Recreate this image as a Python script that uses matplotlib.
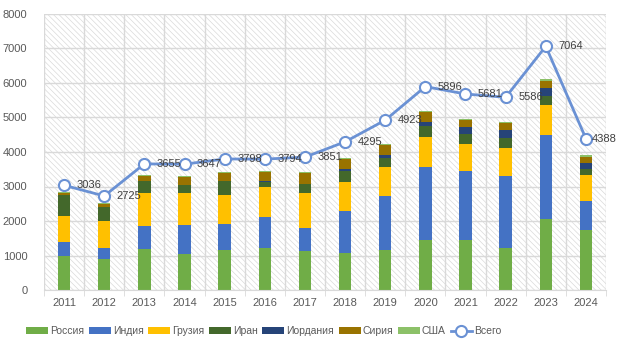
import matplotlib
matplotlib.use("Agg")
import matplotlib.pyplot as plt
import numpy as np
from matplotlib.patches import Rectangle

matplotlib.rcParams['hatch.linewidth'] = 0.5
plt.rcParams['font.family'] = ['Liberation Sans', 'DejaVu Sans']

years = ["2011", "2012", "2013", "2014", "2015", "2016", "2017",
         "2018", "2019", "2020", "2021", "2022", "2023", "2024"]
russia = [990, 900, 1190, 1045, 1160, 1220, 1135, 1065, 1160, 1450, 1450, 1220, 2060, 1740]
india = [410, 320, 670, 845, 755, 900, 665, 1230, 1570, 2120, 2005, 2090, 2440, 845]
georgia = [750, 785, 960, 930, 840, 870, 1015, 840, 840, 870, 785, 815, 870, 755]
iran = [610, 405, 330, 230, 390, 145, 260, 320, 260, 320, 290, 290, 260, 175]
jordan = [0, 0, 0, 0, 0, 30, 0, 60, 70, 115, 205, 230, 230, 175]
syria = [50, 95, 165, 235, 250, 260, 320, 290, 310, 290, 205, 205, 205, 175]
usa = [40, 30, 30, 30, 30, 20, 30, 30, 30, 30, 30, 30, 50, 40]
total = [3036, 2725, 3655, 3647, 3798, 3794, 3851, 4295, 4923, 5896, 5681, 5586, 7064, 4388]

series = [
    ("Россия", russia, "#70AD47"),
    ("Индия", india, "#4472C4"),
    ("Грузия", georgia, "#FFC000"),
    ("Иран", iran, "#43682B"),
    ("Иордания", jordan, "#264478"),
    ("Сирия", syria, "#997300"),
    ("США", usa, "#8CC168"),
]

fig = plt.figure(figsize=(6.21, 3.52), dpi=100)
ax = fig.add_axes([44/621, 1 - 290/352, (606-44)/621, (290-14)/352])

x = np.arange(len(years))
ax.set_xlim(-0.5, len(years) - 0.5)
ax.set_ylim(0, 8000)

# hatched background
bg = Rectangle((0, 0), 1, 1, transform=ax.transAxes, facecolor="white",
               edgecolor="#DADADA", hatch="\\" * 6, linewidth=0, zorder=0)
ax.add_patch(bg)

# gridlines
for v in range(0, 8001, 1000):
    ax.axhline(v, color="#D9D9D9", lw=1, zorder=0.5)
for b in np.arange(-0.5, len(years) + 0.5, 1):
    ax.axvline(b, color="#D9D9D9", lw=1, zorder=0.5)

bottom = np.zeros(len(years))
handles = []
for name, vals, col in series:
    h = ax.bar(x, vals, width=0.31, bottom=bottom, color=col, label=name, zorder=2)
    handles.append(h)
    bottom += np.array(vals)

ln, = ax.plot(x, total, color="#6A91D4", lw=2, marker="o", markersize=8,
              markerfacecolor="white", markeredgecolor="#6A91D4", markeredgewidth=1.5,
              label="Всего", zorder=3)
for i, (xi, t) in enumerate(zip(x, total)):
    off = 4 if i == len(total) - 1 else 9
    ax.annotate(str(t), (xi, t), xytext=(off, 0), textcoords="offset points",
                ha="left", va="center", fontsize=8, color="#404040", zorder=4)

for s in ax.spines.values():
    s.set_visible(False)
ax.spines["bottom"].set_visible(True)
ax.spines["bottom"].set_color("#D9D9D9")

ax.set_yticks(range(0, 8001, 1000))
ax.set_yticklabels([str(v) for v in range(0, 8001, 1000)])
ax.set_xticks(x)
ax.set_xticklabels(years)
ax.tick_params(axis="y", length=0, labelsize=8, colors="#595959", pad=12)
ax.tick_params(axis="x", length=0, labelsize=8, colors="#595959", pad=6)
ax.set_xticks(np.arange(-0.5, len(years) + 0.5, 1), minor=True)
ax.tick_params(axis="x", which="minor", length=4, color="#D9D9D9")

fig.legend(handles=handles + [ln], labels=[s[0] for s in series] + ["Всего"],
           loc="center", bbox_to_anchor=(264/621, 1 - 331/352), ncol=8, frameon=False,
           fontsize=7.5, handlelength=2.1, handleheight=0.6, handletextpad=0.2,
           columnspacing=0.45, labelcolor="#595959", borderpad=0.2)

fig.savefig("out.png", dpi=100)
